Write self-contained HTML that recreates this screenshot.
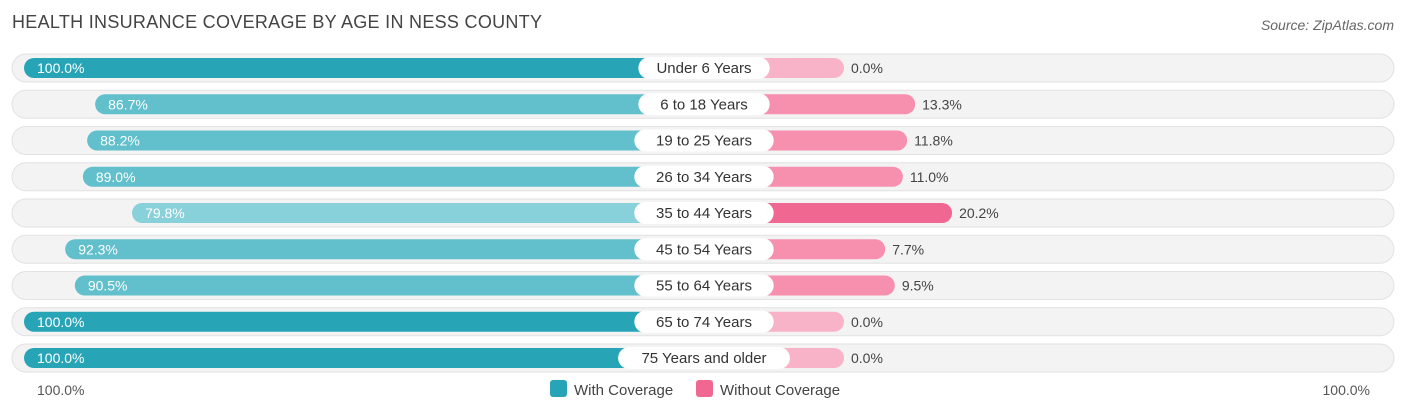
<!DOCTYPE html>
<html><head><meta charset="utf-8"><style>
body{margin:0;background:#fff;font-family:"Liberation Sans",sans-serif;}
svg text{font-family:"Liberation Sans",sans-serif;}
</style></head><body>
<svg width="1406" height="414" viewBox="0 0 1406 414">
<text x="12" y="28" font-size="18" fill="#444" textLength="530">HEALTH INSURANCE COVERAGE BY AGE IN NESS COUNTY</text>
<text x="1394" y="30" font-size="14" fill="#666" font-style="italic" text-anchor="end">Source: ZipAtlas.com</text>
<g id="rows"></g>
<text x="37" y="395" font-size="14" fill="#555">100.0%</text>
<text x="1370" y="395" font-size="14" fill="#555" text-anchor="end">100.0%</text>
<g>
<rect x="550" y="380" width="17" height="17" rx="3" fill="#27a5b7"/>
<text x="574" y="395" font-size="15" fill="#444">With Coverage</text>
<rect x="696" y="380" width="17" height="17" rx="3" fill="#f06792"/>
<text x="720" y="395" font-size="15" fill="#444">Without Coverage</text>
</g>
</svg>
<script>
const categories=["Under 6 Years","6 to 18 Years","19 to 25 Years","26 to 34 Years","35 to 44 Years","45 to 54 Years","55 to 64 Years","65 to 74 Years","75 Years and older"];
const withCov=[100.0,86.7,88.2,89.0,79.8,92.3,90.5,100.0,100.0];
const withoutCov=[0.0,13.3,11.8,11.0,20.2,7.7,9.5,0.0,0.0];
const NS="http://www.w3.org/2000/svg";
const g=document.getElementById('rows');
const cx=704, pxPer=5.35;
function leftX(v){return 24+(100-v)*pxPer;}
function rightX(v){return 844+v*pxPer;}
function rowY(i){return 68+i*36.25;}
function withColor(v){return v>=99?"#27a5b7":(v<85?"#88d0da":"#62bfcc");}
function withoutColor(v){return v>=18?"#f06792":(v<=0.01?"#f8b3c8":"#f78fae");}
function mk(tag,attrs){const e=document.createElementNS(NS,tag);for(const k in attrs)e.setAttribute(k,attrs[k]);g.appendChild(e);return e;}
categories.forEach((c,i)=>{
  const y=rowY(i);
  let e=mk('rect',{x:12,y:y-14,width:1382,height:28,rx:14,fill:"#f3f3f3",stroke:"#e2e2e2"});
  
  
  const lx=leftX(withCov[i]);
  e=mk('rect',{x:lx,y:y-10,width:cx-lx,height:20,rx:10,fill:withColor(withCov[i])});
  
  
  const rx=rightX(withoutCov[i]);
  e=mk('rect',{x:cx-10,y:y-10,width:rx-cx+10,height:20,rx:10,fill:withoutColor(withoutCov[i])});
  
  
  const t=mk('text',{x:lx+13,y:y+5,"font-size":14,fill:"#fff"});t.textContent=withCov[i].toFixed(1)+"%";
  
  
  const t2=mk('text',{x:rx+7,y:y+5,"font-size":14,fill:"#444"});t2.textContent=withoutCov[i].toFixed(1)+"%";
  
  
  const w=c.length*8.1+26;
  e=mk('rect',{x:cx-w/2,y:y-11,width:w,height:22,rx:11,fill:"#fff"});
  
  
  const t3=mk('text',{x:cx,y:y+5,"font-size":15,fill:"#333","text-anchor":"middle"});t3.textContent=c;
  
  
});
</script>
</body></html>
